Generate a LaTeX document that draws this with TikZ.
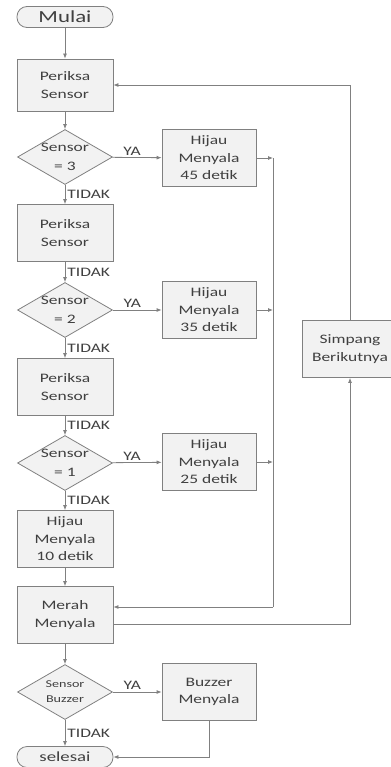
\documentclass[tikz,border=0pt]{standalone}
\usepackage{fontspec}
\setmainfont{Carlito}[FakeStretch=1.35]
\usepackage{tikz}
\usetikzlibrary{shapes.geometric,arrows.meta}
\definecolor{garis}{HTML}{808080}
\definecolor{isi}{HTML}{F2F2F2}
\definecolor{teks}{HTML}{404040}
\tikzstyle{box} = [draw=garis, fill=isi, text=teks, minimum width=96bp, minimum height=57bp, align=center, inner sep=1pt, font=\fontsize{13}{17.5}\selectfont]
\tikzstyle{dec} = [diamond, draw=garis, fill=isi, text=teks, aspect=1.73, inner sep=-2bp, minimum width=95bp, minimum height=55bp, align=center, font=\fontsize{13}{19}\selectfont]
\tikzstyle{term} = [draw=garis, fill=isi, text=teks, rounded corners=10bp, minimum width=96bp, minimum height=21bp, inner sep=0pt, font=\fontsize{17}{18}\selectfont]
\tikzstyle{lbl} = [text=teks, inner sep=2bp, font=\fontsize{13}{14}\selectfont]

\begin{document}
\begin{tikzpicture}[x=1bp, y=-1bp, line width=0.8bp, draw=garis, >={Latex[length=5bp,width=4bp]}]
	  \useasboundingbox (0,0) rectangle (390,767);

	  \node (mulai) at ( 65,17) [term] {Mulai};
	  \node (cek1) at ( 65,85) [box, minimum height=52bp] {Periksa\\Sensor};
	  \node (s3) at ( 65,157) [dec] {Sensor\\= 3};
	  \node (cek2) at ( 65,233) [box] {Periksa\\Sensor};
	  \node (s2) at ( 65,310) [dec] {Sensor\\= 2};
	  \node (cek3) at ( 65,387) [box] {Periksa\\Sensor};
	  \node (s1) at ( 65,463) [dec] {Sensor\\= 1};
	  \node (h10) at ( 65,539) [box] {Hijau\\Menyala\\10 detik};
	  \node (merah) at ( 65,615) [box] {Merah\\Menyala};
	  \node (sbuz) at ( 65,692) [dec, font=\fontsize{10.5}{15}\selectfont] {Sensor\\Buzzer};
	  \node (selesai) at ( 65,757) [term, font=\fontsize{14}{15}\selectfont] {selesai};

	  \node (h45) at (209,158) [box, minimum width=94bp] {Hijau\\Menyala\\45 detik};
	  \node (h35) at (209,310) [box, minimum width=94bp] {Hijau\\Menyala\\35 detik};
	  \node (h25) at (209,462) [box, minimum width=94bp] {Hijau\\Menyala\\25 detik};
	  \node (buzzer) at (209,692) [box, minimum width=94bp] {Buzzer\\Menyala};
	  \node (simpang) at (350,349) [box] {Simpang\\Berikutnya};

	  \coordinate (j1) at (273,158);
	  \coordinate (j2) at (273,310);
	  \coordinate (j3) at (273,462);
	  \coordinate (j4) at (273,607);

	  \draw [->] (mulai) to (cek1);
	  \draw [->] (cek1) to (s3);
	  \draw [->] (s3) to node [lbl, right] {TIDAK} (cek2);
	  \draw [->] (cek2) to node [lbl, right] {TIDAK} (s2);
	  \draw [->] (s2) to node [lbl, right] {TIDAK} (cek3);
	  \draw [->] (cek3) to node [lbl, right] {TIDAK} (s1);
	  \draw [->] (s1) to node [lbl, right] {TIDAK} (h10);
	  \draw [->] (h10) to (merah);
	  \draw [->] (merah) to (sbuz);
	  \draw [->] (sbuz) to node [lbl, right] {TIDAK} (selesai);

	  \draw [->] (s3) to node [lbl, above, pos=0.4] {YA} (h45);
	  \draw [->] (s2) to node [lbl, above, pos=0.4] {YA} (h35);
	  \draw [->] (s1) to node [lbl, above, pos=0.4] {YA} (h25);
	  \draw [->] (sbuz) to node [lbl, above, pos=0.4] {YA} (buzzer);

	  \draw [->] (h45) to (j1);
	  \draw [->] (h35) to (j2);
	  \draw [->] (h25) to (j3);
	  \draw (j1) -- (j4);
	  \draw [->] (j4) -- (j4 -| merah.east);
	  \draw [->] ([yshift=-9bp]merah.east) -| (simpang);
	  \draw [->] (simpang) |- (cek1);
	  \draw [->] (buzzer) |- (selesai);
	\end{tikzpicture}
\end{document}
